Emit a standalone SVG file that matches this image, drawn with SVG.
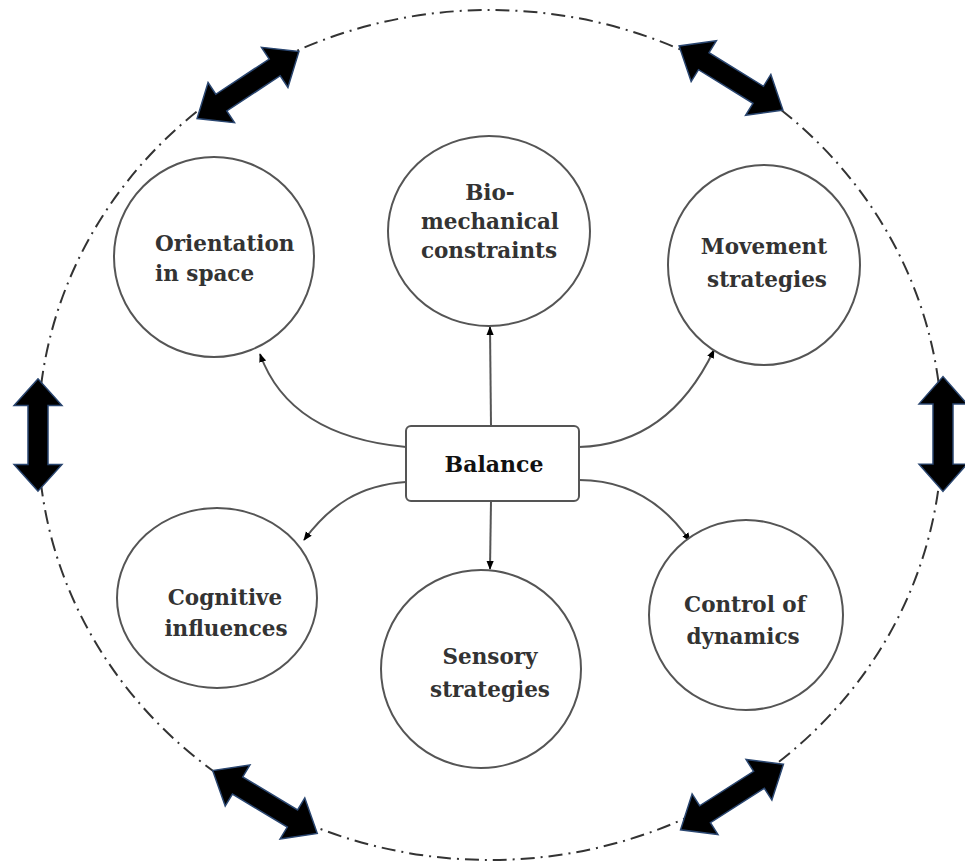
<svg xmlns="http://www.w3.org/2000/svg" width="965" height="865" viewBox="0 0 965 865">
<defs>
<style>
.node{fill:#fff;stroke:#555;stroke-width:2}
.lbl{font-family:"DejaVu Serif","Liberation Serif",serif;font-size:21.5px;font-weight:bold;fill:#333;text-anchor:middle}
.conn{fill:none;stroke:#555;stroke-width:2}
.big{fill:#000;stroke:#2a4670;stroke-width:1.5;stroke-linejoin:miter}
</style>
<marker id="ah" viewBox="0 0 10 10" refX="9" refY="5" markerWidth="9" markerHeight="9" orient="auto" markerUnits="userSpaceOnUse">
<path d="M0,1 L10,5 L0,9 Z" fill="#000"/>
</marker>
<polygon id="dbl" points="61,0 32,-24 32,-10 -32,-10 -32,-24 -61,0 -32,24 -32,10 32,10 32,24"/>
</defs>
<rect width="965" height="865" fill="#fff"/>
<ellipse cx="490" cy="435" rx="452" ry="425" fill="none" stroke="#333" stroke-width="2" stroke-dasharray="14,6,2,6"/>
<g id="outer-arrows">
<use href="#dbl" class="big" transform="translate(248,85) rotate(-33.4)"/>
<use href="#dbl" class="big" transform="translate(731,78) rotate(31.7)"/>
<use href="#dbl" class="big" transform="translate(38,435) rotate(90) scale(0.92,1)"/>
<use href="#dbl" class="big" transform="translate(943,434) rotate(90) scale(0.94,1)"/>
<use href="#dbl" class="big" transform="translate(265,802) rotate(31)"/>
<use href="#dbl" class="big" transform="translate(732,797) rotate(-32.5)"/>
</g>
<g id="connectors">
<path class="conn" d="M406,447 C330,440 280,410 260,354" marker-end="url(#ah)"/>
<path class="conn" d="M491,426 L490,327" marker-end="url(#ah)"/>
<path class="conn" d="M579,447 C650,445 690,400 714,350" marker-end="url(#ah)"/>
<path class="conn" d="M406,482 C360,485 330,505 304,540" marker-end="url(#ah)"/>
<path class="conn" d="M491,501 L490,569" marker-end="url(#ah)"/>
<path class="conn" d="M579,480 C630,480 665,505 690,541" marker-end="url(#ah)"/>
</g>
<g id="orientation">
<ellipse class="node" cx="214" cy="257" rx="100" ry="100"/>
<text class="lbl" x="155" y="251" style="text-anchor:start">Orientation</text>
<text class="lbl" x="155" y="281" style="text-anchor:start">in space</text>
</g>
<g id="biomechanical">
<ellipse class="node" cx="489" cy="231" rx="101" ry="95"/>
<text class="lbl" x="490" y="200">Bio-</text>
<text class="lbl" x="490" y="229">mechanical</text>
<text class="lbl" x="489" y="258">constraints</text>
</g>
<g id="movement">
<ellipse class="node" cx="764" cy="265" rx="96" ry="100"/>
<text class="lbl" x="764" y="254">Movement</text>
<text class="lbl" x="767" y="287">strategies</text>
</g>
<g id="cognitive">
<ellipse class="node" cx="217" cy="598" rx="100" ry="90"/>
<text class="lbl" x="225" y="605">Cognitive</text>
<text class="lbl" x="226" y="636">influences</text>
</g>
<g id="sensory">
<ellipse class="node" cx="481" cy="669" rx="100" ry="99"/>
<text class="lbl" x="490" y="664">Sensory</text>
<text class="lbl" x="490" y="697">strategies</text>
</g>
<g id="control">
<ellipse class="node" cx="746" cy="615" rx="97" ry="95"/>
<text class="lbl" x="745" y="612">Control of</text>
<text class="lbl" x="743" y="644">dynamics</text>
</g>
<g id="balance">
<rect class="node" x="406" y="426" width="173" height="75" rx="5"/>
<text class="lbl" x="494" y="472" style="fill:#111;font-size:22px">Balance</text>
</g>
</svg>
